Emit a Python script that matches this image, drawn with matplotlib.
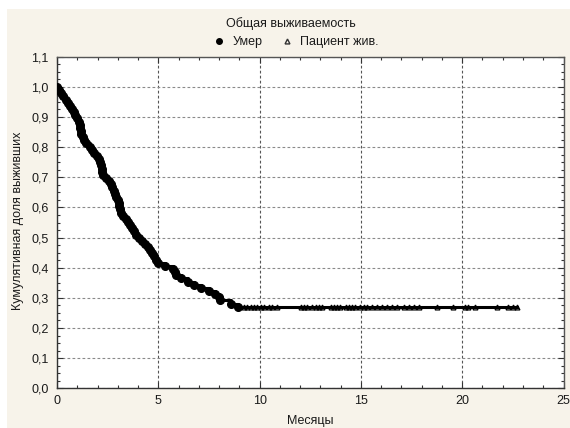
import matplotlib.pyplot as plt
from matplotlib.patches import Rectangle
from matplotlib.lines import Line2D
from matplotlib.ticker import MultipleLocator, FuncFormatter

plt.rcParams['font.family'] = ['Liberation Sans', 'DejaVu Sans']

# death times (months) and cumulative survival after each death
deathTimes = [0.00, 0.10, 0.20, 0.30, 0.42, 0.55, 0.62, 0.75, 0.82, 0.88,
              1.00, 1.08, 1.12, 1.15, 1.18, 1.20, 1.28, 1.35, 1.45, 1.62,
              1.75, 1.84, 1.95, 2.05, 2.10, 2.15, 2.20, 2.23, 2.26, 2.40,
              2.55, 2.65, 2.72, 2.80, 2.88, 2.92, 3.00, 3.05, 3.08, 3.12,
              3.16, 3.25, 3.40, 3.48, 3.58, 3.70, 3.80, 3.92, 4.05, 4.20,
              4.35, 4.47, 4.60, 4.70, 4.78, 4.88, 5.00, 5.35, 5.75, 5.82,
              5.88, 6.10, 6.45, 6.75, 7.10, 7.50, 7.80, 8.00, 8.05, 8.60,
              8.95]
survival = [1.000, 0.990, 0.979, 0.969, 0.958, 0.948, 0.938, 0.927, 0.917, 0.906,
            0.896, 0.885, 0.875, 0.865, 0.854, 0.844, 0.833, 0.823, 0.813, 0.802,
            0.792, 0.781, 0.771, 0.760, 0.750, 0.740, 0.729, 0.719, 0.708, 0.698,
            0.688, 0.677, 0.667, 0.656, 0.646, 0.635, 0.625, 0.615, 0.604, 0.594,
            0.583, 0.573, 0.563, 0.552, 0.542, 0.531, 0.521, 0.510, 0.500, 0.490,
            0.479, 0.469, 0.458, 0.448, 0.438, 0.427, 0.417, 0.406, 0.396, 0.385,
            0.375, 0.365, 0.354, 0.344, 0.333, 0.323, 0.313, 0.302, 0.292, 0.281,
            0.270]

# censored (patient alive) times on the plateau
censTimes = [9.23, 9.39, 9.56, 9.72, 9.89, 10.05, 10.21, 10.46, 10.62, 10.87,
             12.02, 12.18, 12.35, 12.60, 12.76, 12.92, 13.09, 13.50, 13.66, 13.83,
             13.99, 14.24, 14.40, 14.57, 14.73, 14.98, 15.14, 15.30, 15.55, 15.80,
             16.04, 16.29, 16.54, 16.78, 17.11, 17.36, 17.60, 17.85, 18.75, 19.57,
             20.15, 20.31, 20.64, 21.71, 22.28, 22.53, 22.70]
plateau = 0.270
lastTime = 22.70

title = "Общая выживаемость"
xTitle = "Месяцы"
yTitle = "Кумулятивная доля выживших"

beige = '#F7F3EA'
txtColor = '#1a1a1a'
fs = 9

fig = plt.figure(figsize=(5.7, 4.28), dpi=100, facecolor='white')
fig.patches.append(Rectangle((7/570, 0), 1 - 7/570, 1 - 9/428, transform=fig.transFigure,
                             facecolor=beige, edgecolor='none', zorder=-10))

ax = fig.add_axes([57/570, 1 - 388.3/428, (563.5 - 57)/570, (388.3 - 56.7)/428])
ax.set_facecolor('white')

ax.step(deathTimes + [lastTime], survival + [plateau], where='post', color='black', lw=2.2, zorder=3)
ax.plot(deathTimes, survival, 'o', color='black', ms=5.5, zorder=4)
ax.plot(censTimes, [plateau] * len(censTimes), '^', mfc='none', mec='black', mew=0.9, ms=3.5, zorder=4)

ax.set_xlim(0, 25)
ax.set_ylim(0, 1.1)
ax.xaxis.set_major_locator(MultipleLocator(5))
ax.xaxis.set_minor_locator(MultipleLocator(1))
ax.yaxis.set_major_locator(MultipleLocator(0.1))
ax.yaxis.set_minor_locator(MultipleLocator(0.025))
ax.yaxis.set_major_formatter(FuncFormatter(lambda v, p: f"{v:.1f}".replace('.', ',')))

ax.tick_params(which='both', direction='in', top=True, right=True, colors='#333333',
               labelcolor=txtColor, labelsize=fs)
ax.tick_params(which='major', length=4, width=0.8)
ax.tick_params(which='minor', length=2.5, width=0.8)
ax.tick_params(axis='y', pad=6)
ax.tick_params(axis='x', pad=5)

ax.grid(True, axis='x', which='major', color='#555555', linestyle=(0, (2.5, 2)), lw=0.8)
ax.grid(True, axis='y', which='major', color='#8a8a8a', linestyle=(0, (2.5, 2)), lw=0.8)
ax.set_axisbelow(True)

for side in ['left', 'bottom']:
    ax.spines[side].set_color('#333333')
    ax.spines[side].set_linewidth(1.0)
for side in ['top', 'right']:
    ax.spines[side].set_color('#555555')
    ax.spines[side].set_linewidth(1.0)

fig.text(291/570, 1 - 24/428, title, ha='center', va='center', fontsize=fs, color=txtColor)
fig.text(310/570, 1 - 421/428, xTitle, ha='center', va='center', fontsize=fs, color=txtColor)
fig.text(18/570, 1 - 221/428, yTitle, ha='center', va='center', rotation=90, fontsize=fs, color=txtColor)

handles = [Line2D([], [], ls='none', marker='o', color='black', ms=4),
           Line2D([], [], ls='none', marker='^', mfc='none', mec='#333333', ms=3.5)]
fig.legend(handles, ["Умер", "Пациент жив."], loc='center', bbox_to_anchor=(296/570, 1 - 42/428),
           ncol=2, frameon=False, fontsize=fs, handlelength=1.0, handletextpad=0.6,
           columnspacing=1.4, labelcolor=txtColor)

fig.savefig('out.png', dpi=100, facecolor='white')
